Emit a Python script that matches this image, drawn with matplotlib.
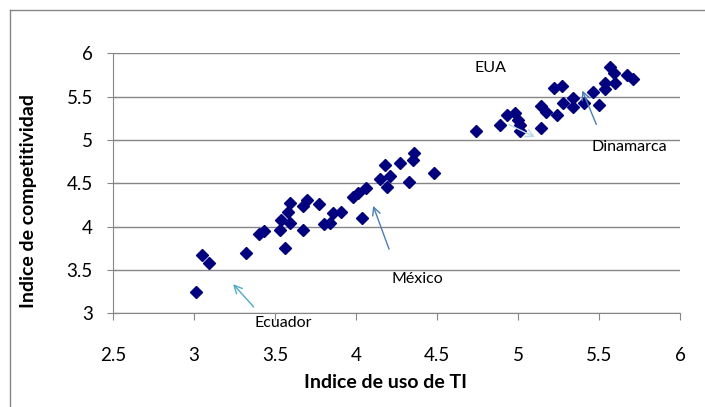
import matplotlib.pyplot as plt
from matplotlib.lines import Line2D

# Indice de uso de TI (x) vs Indice de competitividad (y)
uso_ti = [3.01, 3.05, 3.09, 3.32, 3.56, 3.40, 3.43, 3.53, 3.54, 3.59,
          3.58, 3.59, 3.67, 3.67, 3.70, 3.77, 3.80, 3.84, 3.86, 3.91,
          3.98, 4.01, 4.06, 4.04, 4.15, 4.21, 4.19, 4.18, 4.27, 4.33,
          4.35, 4.36, 4.48, 4.74, 4.89, 4.93, 4.98, 5.00, 5.01, 5.01,
          5.14, 5.14, 5.17, 5.24, 5.28, 5.22, 5.27, 5.34, 5.34, 5.41,
          5.46, 5.50, 5.54, 5.54, 5.60, 5.57, 5.59, 5.67, 5.71]
competitividad = [3.25, 3.67, 3.58, 3.70, 3.75, 3.91, 3.95, 3.96, 4.08, 4.04,
                  4.17, 4.27, 3.96, 4.24, 4.31, 4.26, 4.03, 4.04, 4.16, 4.17,
                  4.34, 4.39, 4.45, 4.10, 4.55, 4.58, 4.46, 4.71, 4.73, 4.51,
                  4.77, 4.85, 4.62, 5.10, 5.17, 5.29, 5.31, 5.23, 5.17, 5.10,
                  5.14, 5.39, 5.32, 5.29, 5.43, 5.60, 5.62, 5.48, 5.38, 5.43,
                  5.55, 5.40, 5.59, 5.66, 5.66, 5.84, 5.77, 5.75, 5.70]

x_ticks = [2.5, 3, 3.5, 4, 4.5, 5, 5.5, 6]
y_ticks = [3, 3.5, 4, 4.5, 5, 5.5, 6]

# label, text position, arrow start, arrow tip, colour
notas = [
    ("EUA", (4.83, 5.83), None, None, None),
    ("Dinamarca", (5.69, 4.92), (5.49, 5.15), (5.39, 5.60), "#4a7ebb"),
    ("México", (4.38, 3.40), (4.21, 3.71), (4.10, 4.27), "#4a7ebb"),
    ("Ecuador", (3.55, 2.89), (3.38, 3.05), (3.23, 3.36), "#4bacc6"),
    ("", None, (4.93, 5.19), (5.12, 5.02), "#b7dde8"),
]

plt.rcParams["font.family"] = ["Lato", "DejaVu Sans"]
gris = "#868686"

fig = plt.figure(figsize=(7.05, 4.07), dpi=100)
ax = fig.add_axes([113 / 705, 1 - 313.3 / 407, 567 / 705, 260 / 407])

ax.set_xlim(2.5, 6)
ax.set_ylim(3, 6)
ax.set_xticks(x_ticks)
ax.set_yticks(y_ticks)
ax.set_xticklabels([f"{t:g}" for t in x_ticks], fontsize=13.5)
ax.set_yticklabels([f"{t:g}" for t in y_ticks], fontsize=13.5)
ax.yaxis.grid(True, color=gris, linewidth=1)
ax.set_axisbelow(True)

for lado in ["top", "right"]:
    ax.spines[lado].set_visible(False)
for lado in ["left", "bottom"]:
    ax.spines[lado].set_color(gris)
ax.tick_params(axis="x", direction="out", length=5, color=gris, pad=19)
ax.tick_params(axis="y", direction="inout", length=9, color=gris, pad=10)

ax.plot(uso_ti, competitividad, "D", color="#000080", markersize=6,
        linestyle="none", clip_on=False)

for texto, pos, inicio, punta, color in notas:
    if inicio is not None:
        ax.annotate("", xy=punta, xytext=inicio,
                    arrowprops=dict(arrowstyle="->", color=color, lw=1,
                                    mutation_scale=14))
    if pos is not None:
        ax.text(pos[0], pos[1], texto, ha="center", va="center",
                fontsize=11.5, clip_on=False)

ax.set_xlabel("Indice de uso de TI", fontsize=14, fontweight="bold")
ax.xaxis.set_label_coords((386 - 113) / 567, -(374 - 313.3) / 260)
ax.set_ylabel("Indice de competitividad", fontsize=14, fontweight="bold")
ax.yaxis.set_label_coords(-(113 - 37) / 567, (313.3 - 201) / 260)

# outer frame (only the top and left edges are visible)
fig.add_artist(Line2D([9.5 / 705, 9.5 / 705], [0, 1 - 10 / 407],
                      transform=fig.transFigure, color=gris, lw=1))
fig.add_artist(Line2D([9.5 / 705, 1], [1 - 10 / 407, 1 - 10 / 407],
                      transform=fig.transFigure, color=gris, lw=1))

fig.savefig("out.png", dpi=100)
